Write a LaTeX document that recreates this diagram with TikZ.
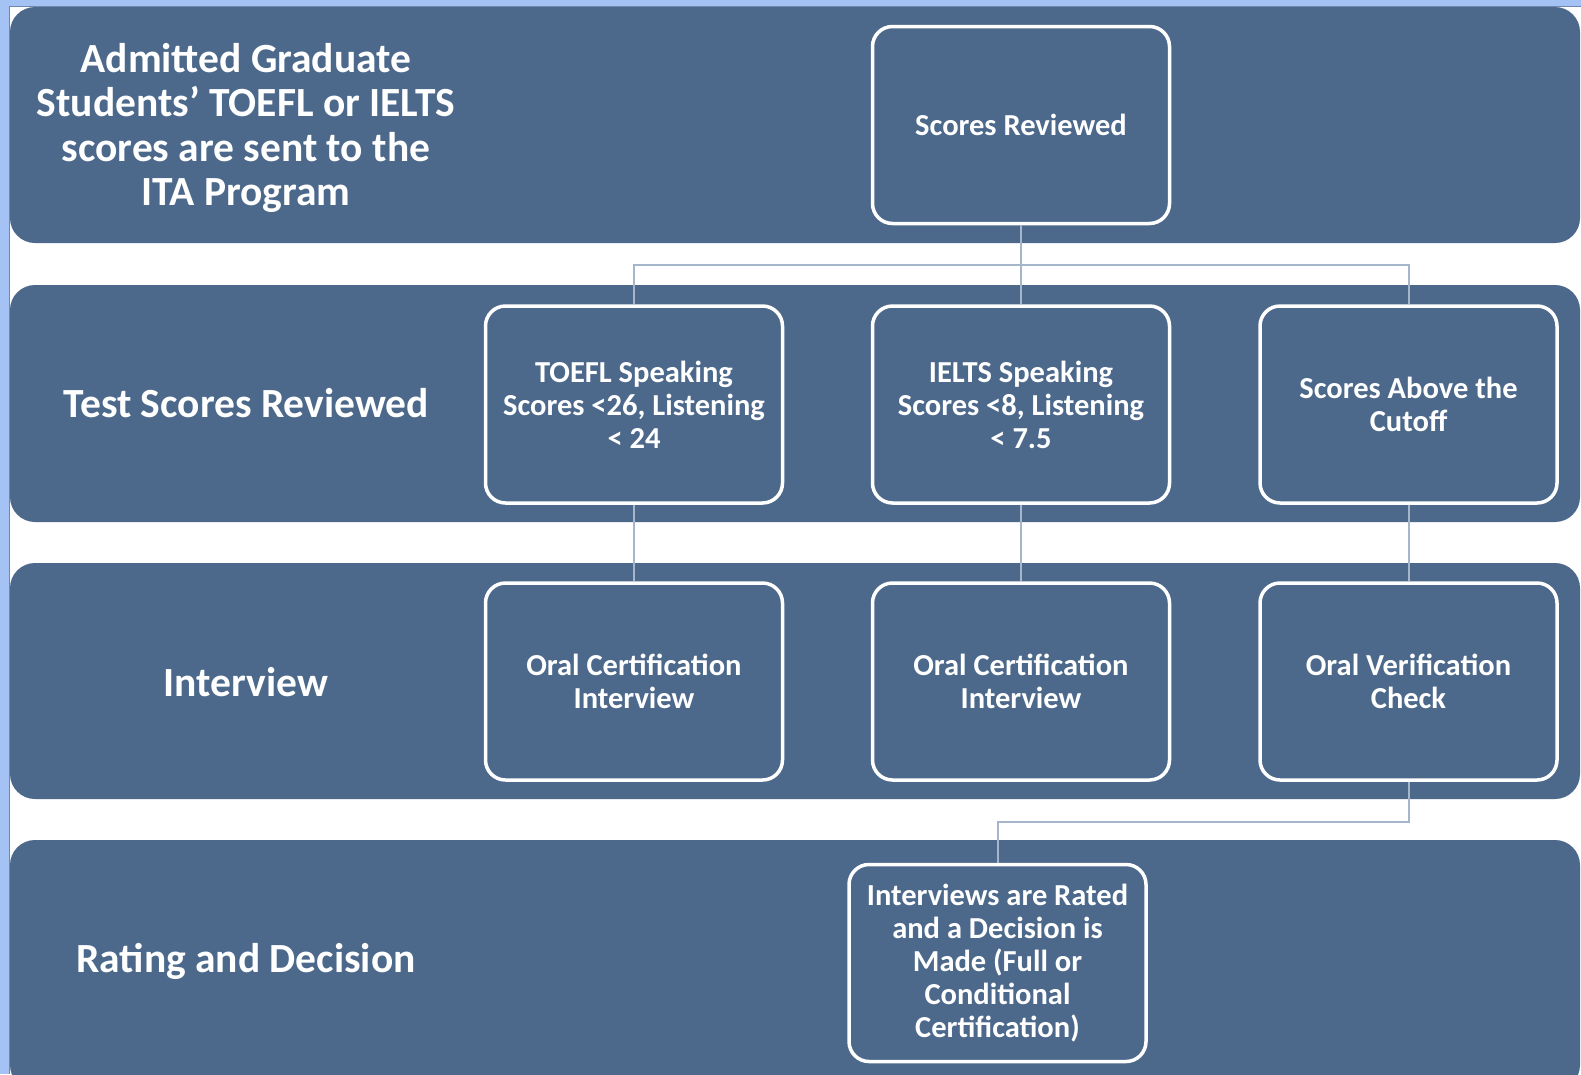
\documentclass[tikz,border=0pt]{standalone}
\usepackage{fontspec}
\setmainfont{Carlito}
\definecolor{bandc}{RGB}{76,105,140}
\definecolor{connc}{RGB}{165,181,202}
\definecolor{framec}{RGB}{164,194,244}
\definecolor{framel}{RGB}{110,135,175}
\begin{document}
\begin{tikzpicture}[x=1pt,y=-1pt,
  band/.style={fill=bandc, rounded corners=25pt},
  boxn/.style={draw=white, line width=3.5pt, fill=bandc, rounded corners=20pt,
    minimum width=297pt, minimum height=197pt, align=center, text=white,
    font=\bfseries\fontsize{30.5}{33}\selectfont, inner sep=0pt},
  lbl/.style={text=white, align=center, font=\bfseries\fontsize{41.5}{44.5}\selectfont},
  conn/.style={draw=connc, line width=2pt}]
\useasboundingbox (0,0) rectangle (1581,1074);
\fill[framec] (0,0) rectangle (1581,1074);
\fill[white] (9,6) rectangle (1581,1074);
\draw[framel, line width=0.8pt] (9,1074) -- (9,6) -- (1581,6);
% bands
\fill[band] (10,7) rectangle (1580,243);
\fill[band] (10,285) rectangle (1580,522);
\fill[band] (10,563) rectangle (1580,799);
\fill[band] (10,840) rectangle (1580,1090);
% labels
\node[lbl] (l1) at (246,128) {Admitted Graduate\\Students’ TOEFL or IELTS\\scores are sent to the\\ITA Program};
\node[lbl] (l2) at (246,403) {Test Scores Reviewed};
\node[lbl] (l3) at (246,682) {Interview};
\node[lbl] (l4) at (246,961) {Rating and Decision};
% boxes
\node[boxn] (sr) at (1021,125) {Scores Reviewed};
\node[boxn] (toefl) at (634,404.5) {TOEFL Speaking\\Scores <26, Listening\\< 24};
\node[boxn] (ielts) at (1021,404.5) {IELTS Speaking\\Scores <8, Listening\\< 7.5};
\node[boxn] (above) at (1408.5,404.5) {Scores Above the\\Cutoff};
\node[boxn] (oc1) at (634,681.5) {Oral Certification\\Interview};
\node[boxn] (oc2) at (1021,681.5) {Oral Certification\\Interview};
\node[boxn] (ov) at (1408.5,681.5) {Oral Verification\\Check};
\node[boxn] (rd) at (997.5,963) {Interviews are Rated\\and a Decision is\\Made (Full or\\Conditional\\Certification)};
% connectors
\coordinate (j1) at (1021,265);
\coordinate (j2) at (1021,822);
\draw[conn] (sr.south) -- (j1);
\draw[conn] (toefl.north) -- (toefl.north |- j1) -- (above.north |- j1) -- (above.north);
\draw[conn] (j1) -- (ielts.north);
\draw[conn] (toefl.south) -- (oc1.north);
\draw[conn] (ielts.south) -- (oc2.north);
\draw[conn] (above.south) -- (ov.north);
\draw[conn] (ov.south) -- (ov.south |- j2) -- (rd.north |- j2) -- (rd.north);
\end{tikzpicture}
\end{document}
